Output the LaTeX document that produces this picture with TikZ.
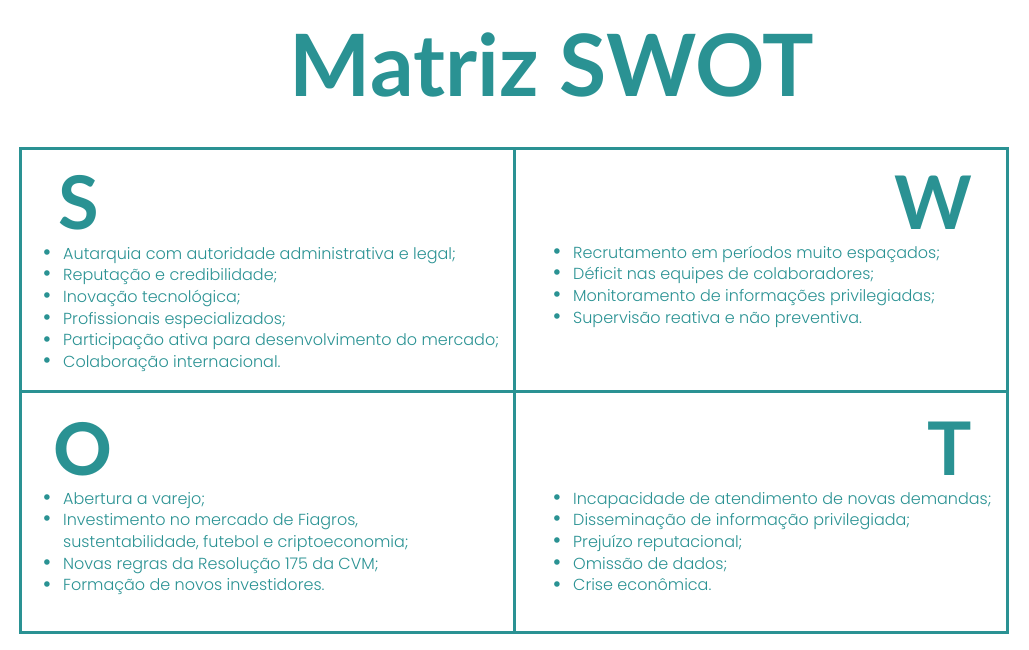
\documentclass[tikz,border=0pt]{standalone}
\usepackage{fontspec}
\usepackage{tikz}
\usetikzlibrary{positioning}
\setmainfont{Poppins}[UprightFont=* Light, BoldFont=* SemiBold]
\newfontfamily\latofont{Lato}
\definecolor{swotteal}{RGB}{42,146,147}
\newcommand{\itemfont}{\fontsize{16}{21.7}\selectfont}
\newcommand{\swotbullet}{\makebox[20pt][l]{\hspace*{-0.5pt}\smash{\raisebox{-1.2pt}{\scalebox{1.5}{\textbullet}}}}}

\begin{document}
\begin{tikzpicture}[x=1pt, y=-1pt, every node/.style={inner sep=0pt, text=swotteal}]
  \useasboundingbox (0,0) rectangle (1029,649);
  % frame of the matrix
  \coordinate (tl) at (20,148);
  \coordinate (br) at (1007,632);
  \draw[swotteal, line width=3pt] (tl) rectangle (br);
  \draw[swotteal, line width=3pt] (514,148) -- (514,632);
  \draw[swotteal, line width=3pt] (20,391) -- (1007,391);
  % title
  \node[anchor=base, font=\latofont\bfseries\fontsize{86}{90}\selectfont] (title) at (552,96) {Matriz SWOT};
  % quadrant letters
  \node[anchor=base west, text depth=0pt, font=\latofont\bfseries\fontsize{74}{80}\selectfont] (lS) at (58,229) {S};
  \node[anchor=base east, text depth=0pt, font=\latofont\bfseries\fontsize{74}{80}\selectfont] (lW) at (972,229) {W};
  \node[anchor=base west, text depth=0pt, font=\bfseries\fontsize{75}{80}\selectfont] (lO) at (53,475) {O};
  \node[anchor=base east, text depth=0pt, font=\latofont\bfseries\fontsize{74}{80}\selectfont] (lT) at (972,475) {T};
  % strengths
  \foreach \t [count=\i] in {Autarquia com autoridade administrativa e legal;, Reputação e credibilidade;, Inovação tecnológica;, Profissionais especializados;, Participação ativa para desenvolvimento do mercado;, Colaboração internacional.}
    \node[anchor=base west, font=\itemfont] (s\i) at (43,237.3+21.7*\i) {\swotbullet\t};
  % weaknesses
  \foreach \t [count=\i] in {Recrutamento em períodos muito espaçados;, Déficit nas equipes de colaboradores;, Monitoramento de informações privilegiadas;, Supervisão reativa e não preventiva.}
    \node[anchor=base west, font=\itemfont] (w\i) at (553,236.3+21.7*\i) {\swotbullet\t};
  % opportunities
  \node[anchor=base west, font=\itemfont] (o1) at (43,504) {\swotbullet Abertura a varejo;};
  \node[anchor=base west, font=\itemfont] (o2) at (43,525.7) {\swotbullet Investimento no mercado de Fiagros,};
  \node[anchor=base west, font=\itemfont] (o2b) at (63,547.4) {sustentabilidade, futebol e criptoeconomia;};
  \node[anchor=base west, font=\itemfont] (o3) at (43,569.1) {\swotbullet Novas regras da Resolução 175 da CVM;};
  \node[anchor=base west, font=\itemfont] (o4) at (43,590.8) {\swotbullet Formação de novos investidores.};
  % threats
  \foreach \t [count=\i] in {Incapacidade de atendimento de novas demandas;, Disseminação de informação privilegiada;, Prejuízo reputacional;, Omissão de dados;, Crise econômica.}
    \node[anchor=base west, font=\itemfont] (t\i) at (553,482.3+21.7*\i) {\swotbullet\t};
\end{tikzpicture}
\end{document}
